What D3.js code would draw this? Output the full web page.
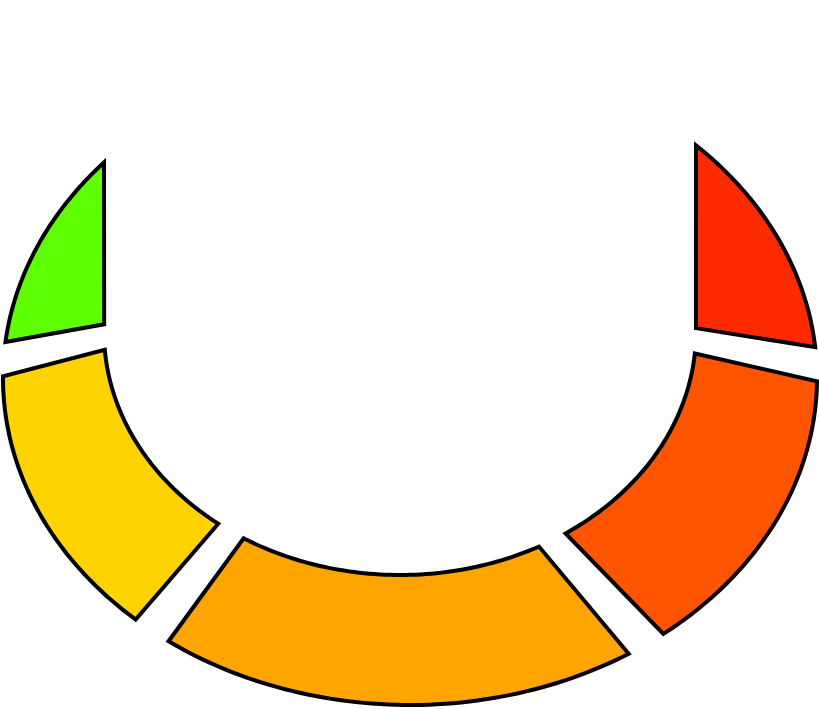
<!DOCTYPE html>
<html>
<head>
<meta charset="utf-8">
<script src="https://cdn.jsdelivr.net/npm/d3@7"></script>
<style>
  body { margin: 0; background: #fff; }
</style>
</head>
<body>
<svg></svg>
<script>
// gauge bands, left top -> bottom -> right top (sweep in degrees)
const bands = ["Low", "Moderate", "Medium", "High", "Very high"];
const bandValues = [38, 54, 75, 57, 43];
const bandColors = ["#5eff00", "#ffd300", "#ffa500", "#ff5500", "#ff2b00"];

const width = 819, height = 709;

const svg = d3.select("svg")
    .attr("width", width)
    .attr("height", height);

// rim and hole are two ellipses with their own centres
const outer = {cx: 410, cy: 378, rx: 407, ry: 327};
const inner = {cx: 400, cy: 332, rx: 296, ry: 243};
const rad = Math.PI / 180;
const pad = 3;    // half gap between bands, degrees on the rim
const skew = 4.5; // inner corners sit a bit further toward the bottom

function pt(e, deg) {
    return [e.cx + e.rx * Math.sin(deg * rad), e.cy - e.ry * Math.cos(deg * rad)];
}

function toBottom(deg) {
    return deg > -180 ? deg - skew : deg + skew;
}

// the end bands stop where the rim meets the straight sides of the hole
const startDeg = -Math.asin((outer.cx - (inner.cx - inner.rx)) / outer.rx) / rad;
const endDeg = -360 + Math.asin((inner.cx + inner.rx - outer.cx) / outer.rx) / rad;

const angle = d3.scaleLinear()
    .domain([0, d3.sum(bandValues)])
    .range([startDeg, endDeg]);

const cum = d3.cumsum(bandValues);
const last = bandValues.length - 1;

const segs = bandValues.map((v, i) => {
    const o0 = i === 0 ? angle(cum[i] - v) : angle(cum[i] - v) - pad;
    const o1 = i === last ? angle(cum[i]) : angle(cum[i]) + pad;
    const n = 60;
    const t = d3.scaleLinear().domain([0, n]);
    const pts = d3.range(n + 1).map(k => pt(outer, t.range([o0, o1])(k)));
    if (i === 0) {
        pts.push(pt(inner, toBottom(o1)));
    } else if (i === last) {
        pts.push(pt(inner, toBottom(o0)));
    } else {
        const i0 = toBottom(o0), i1 = toBottom(o1);
        d3.range(n + 1).forEach(k => pts.push(pt(inner, t.range([i1, i0])(k))));
    }
    return {name: bands[i], color: bandColors[i], pts: pts};
});

const line = d3.line().curve(d3.curveLinearClosed);

svg.selectAll("path.band")
    .data(segs)
    .enter()
    .append("path")
    .attr("class", "band")
    .attr("d", d => line(d.pts))
    .attr("fill", d => d.color)
    .attr("stroke", "#000")
    .attr("stroke-width", 4)
    .attr("stroke-linejoin", "miter")
    .append("title")
    .text(d => d.name);
</script>
</body>
</html>
